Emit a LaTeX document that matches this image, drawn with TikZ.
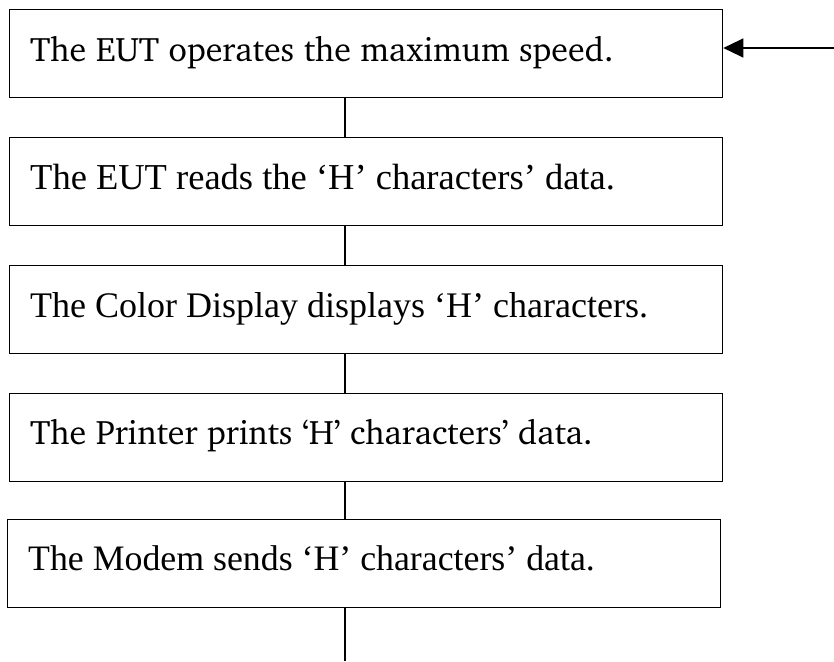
\documentclass[tikz,border=0pt]{standalone}
\usepackage[T1]{fontenc}
\usepackage{fontspec}
\newfontfamily\tms{Liberation Serif}
\newcommand\chrfont{\fontencoding{T1}\fontfamily{bch}\fontsize{34}{40}\selectfont}
\newcommand\tmsfont{\tms\fontsize{36.5}{44}\selectfont}
\newcommand\tmsfontb{\tms\fontsize{36}{44}\selectfont}
\newcommand\tmsfontc{\tms\fontsize{35.8}{44}\selectfont}
\usetikzlibrary{arrows.meta}
\begin{document}
\begin{tikzpicture}[x=1pt,y=-1pt,
  boxst/.style={draw, line width=1.3pt, inner sep=0pt, anchor=north west,
    minimum width=713pt, minimum height=88pt},
  lbl/.style={anchor=base west, inner sep=0pt},
  conn/.style={line width=1.3pt}]
\useasboundingbox (0,0) rectangle (834,661);
\node[boxst] (b1) at (9,9) {};
\node[boxst] (b2) at (9,137) {};
\node[boxst] (b3) at (9,265) {};
\node[boxst] (b4) at (9,393) {};
\node[boxst] (b5) at (7,519) {};
\node[lbl, font=\chrfont] (t1) at (30,61) {The EUT operates the maximum speed.};
\node[lbl, font=\tmsfont] (t2) at (30,189) {The EUT reads the ‘H’ characters’ data.};
\node[lbl, font=\tmsfontb] (t3) at (30,317) {The Color Display displays ‘H’ characters.};
\node[lbl, font=\chrfont] (t4) at (30,444) {The Printer prints `H' characters' data.};
\node[lbl, font=\tmsfontc] (t5) at (28,570) {The Modem sends ‘H’ characters’ data.};
\draw[conn] (b1.south -| 345,0) -- (b2.north -| 345,0);
\draw[conn] (b2.south -| 345,0) -- (b3.north -| 345,0);
\draw[conn] (b3.south -| 345,0) -- (b4.north -| 345,0);
\draw[conn] (b4.south -| 345,0) -- (b5.north -| 345,0);
\coordinate (bend) at (345,661);
\draw[conn] (b5.south -| 345,0) -- (bend);
\coordinate (ain) at (834,48);
\draw[conn, -{Triangle[length=20pt,width=19pt]}] (ain) -- (ain -| b1.east);
\end{tikzpicture}
\end{document}
